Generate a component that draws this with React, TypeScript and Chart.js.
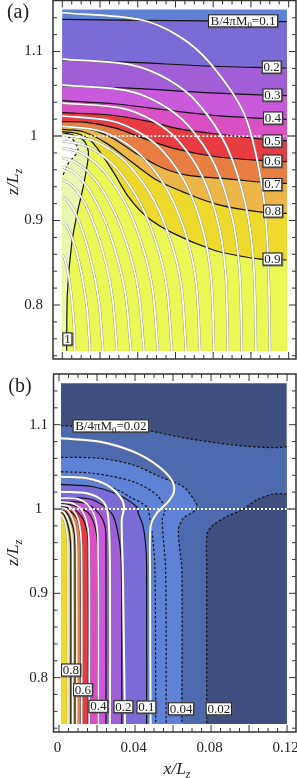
import React, { useEffect, useRef } from "react";
import { Chart, registerables } from "chart.js";

Chart.register(...registerables);

type P = [number, number];
type Label = [number, number, string];

const SERIF = '"Liberation Serif", "Times New Roman", serif';

// Shared axis ticks
const xMajorTicks = [0, 0.02, 0.04, 0.06, 0.08, 0.1, 0.12];
const xMinorTicks = [0.005, 0.01, 0.015, 0.025, 0.03, 0.035, 0.045, 0.05, 0.055, 0.065, 0.07, 0.075, 0.085, 0.09, 0.095, 0.105, 0.11, 0.115];
const xTickLabels = [0, 0.04, 0.08, 0.12];
const yMajorTicks = [0.8, 0.9, 1, 1.1];
const yMinorTicks = [0.74, 0.76, 0.78, 0.82, 0.84, 0.86, 0.88, 0.92, 0.94, 0.96, 0.98, 1.02, 1.04, 1.06, 1.08, 1.12, 1.14];

// Band colours, low B to high B
const bandBase = "#5f82d6";
const band01 = "#7a6bd6";
const band02 = "#a05fd6";
const band03 = "#c95adc";
const band04 = "#d94fc4";
const band05 = "#e83c42";
const band06 = "#e87e42";
const band07 = "#ecb648";
const band08 = "#eeda2c";
const band09 = "#eaf855";
const band10 = "#e8f8b0";
const band11 = "#ffffff";
const bandOuter = "#3f5080";
const bandMid = "#4d6aaf";

// Panel (a): fill limits
const aLeft = 0, aRight = 0.1191, aTop = 1.1497, aBottom = 0.7457;

// Panel (a): B contours
const a01: P[] = [[0, 1.138], [0.06, 1.1365], [0.119, 1.1353]];
const a02: P[] = [[0, 1.09], [0.0377, 1.0872], [0.073, 1.0832], [0.1083, 1.0809], [0.119, 1.0805]];
const a03: P[] = [[0, 1.0592], [0.0377, 1.0564], [0.073, 1.0517], [0.1083, 1.0485], [0.119, 1.0477]];
const a04: P[] = [[0, 1.0418], [0.0288, 1.0379], [0.0553, 1.0308], [0.0818, 1.0241], [0.1066, 1.0209], [0.119, 1.0197]];
const a05: P[] = [[0, 1.0276], [0.0253, 1.0249], [0.0465, 1.017], [0.0606, 1.0091], [0.0765, 1.0039], [0.1066, 0.9961], [0.119, 0.9945]];
const a06: P[] = [[0, 1.017], [0.0129, 1.0162], [0.0288, 1.0091], [0.043, 0.9972], [0.0589, 0.9854], [0.0818, 0.9755], [0.1066, 0.9708], [0.119, 0.9696]];
const a07: P[] = [[0, 1.0118], [0.0129, 1.0091], [0.0253, 0.9992], [0.0377, 0.9815], [0.0518, 0.9637], [0.0659, 0.9538], [0.0907, 0.9487], [0.1066, 0.9452], [0.119, 0.944]];
const a08: P[] = [[0, 1.0079], [0.0111, 1.0051], [0.0235, 0.9913], [0.0377, 0.9677], [0.05, 0.9479], [0.0659, 0.9321], [0.0836, 0.9183], [0.1066, 0.9097], [0.119, 0.9085]];
const a09: P[] = [[0, 1.0051], [0.0076, 1.0032], [0.0147, 0.9953], [0.0205, 0.9795], [0.0275, 0.9558], [0.035, 0.9282], [0.0447, 0.9045], [0.0589, 0.8848], [0.0801, 0.8651], [0.0942, 0.858], [0.1048, 0.8544], [0.119, 0.8533]];
const a10: P[] = [[0, 1.0039], [0.0058, 1.0012], [0.0111, 0.9953], [0.0133, 0.9873], [0.0138, 0.9755], [0.0111, 0.94], [0.0079, 0.9085], [0.005, 0.873], [0.0027, 0.8138], [0.0023, 0.746]];
const a11: P[] = [[0, 1.0012], [0.0023, 1.0], [0.0058, 0.9953], [0.0082, 0.9854], [0.0076, 0.9795], [0.0032, 0.9677], [0, 0.9518]];

// Panel (a): field lines
const aField: P[][] = [
  [[0, 0.8592], [0.0008, 0.8569], [0.0017, 0.8513], [0.0027, 0.8422], [0.004, 0.8252], [0.0052, 0.8025], [0.0061, 0.7798], [0.0067, 0.7457]],
  [[0, 0.8983], [0.0017, 0.8953], [0.0037, 0.8876], [0.0058, 0.8754], [0.0087, 0.8525], [0.0114, 0.822], [0.0133, 0.7915], [0.0147, 0.7457]],
  [[0, 0.9278], [0.0025, 0.9242], [0.0054, 0.9151], [0.0086, 0.9005], [0.0128, 0.8732], [0.0168, 0.8368], [0.0196, 0.8003], [0.0216, 0.7457]],
  [[0, 0.9479], [0.0039, 0.9439], [0.0082, 0.9337], [0.0126, 0.9176], [0.0182, 0.8872], [0.0234, 0.8468], [0.0267, 0.8064], [0.029, 0.7457]],
  [[0, 0.9633], [0.005, 0.9589], [0.0103, 0.9481], [0.0158, 0.9307], [0.0229, 0.898], [0.0293, 0.8545], [0.0336, 0.811], [0.0364, 0.7457]],
  [[0, 0.974], [0.0068, 0.9694], [0.0135, 0.958], [0.0202, 0.9398], [0.0286, 0.9055], [0.0359, 0.8599], [0.0405, 0.8142], [0.0433, 0.7457]],
  [[0, 0.9858], [0.009, 0.981], [0.0172, 0.969], [0.0252, 0.9498], [0.0349, 0.9138], [0.043, 0.8658], [0.0479, 0.8177], [0.0507, 0.7457]],
  [[0, 0.9941], [0.0116, 0.9891], [0.0214, 0.9767], [0.0306, 0.9568], [0.0415, 0.9196], [0.0503, 0.8699], [0.0554, 0.8202], [0.0581, 0.7457]],
  [[0, 1.0012], [0.0144, 0.9961], [0.0258, 0.9833], [0.0363, 0.9629], [0.0484, 0.9246], [0.0578, 0.8735], [0.0631, 0.8224], [0.0656, 0.7457]],
  [[0, 1.0118], [0.019, 1.0065], [0.0323, 0.9932], [0.044, 0.9719], [0.0567, 0.932], [0.0661, 0.8788], [0.071, 0.8255], [0.073, 0.7457]],
  [[0, 1.0237], [0.0256, 1.0181], [0.0408, 1.0042], [0.0534, 0.982], [0.0662, 0.9403], [0.075, 0.8847], [0.079, 0.8291], [0.0804, 0.7457]],
  [[0, 1.039], [0.0312, 1.0331], [0.0479, 1.0185], [0.0613, 0.995], [0.0745, 0.951], [0.0831, 0.8924], [0.0867, 0.8337], [0.0878, 0.7457]],
  [[0, 1.0603], [0.0338, 1.054], [0.052, 1.0383], [0.0665, 1.0131], [0.0808, 0.9659], [0.0901, 0.903], [0.094, 0.8401], [0.0952, 0.7457]],
  [[0, 1.0911], [0.0364, 1.0842], [0.0561, 1.0669], [0.0717, 1.0393], [0.0872, 0.9875], [0.0972, 0.9184], [0.1014, 0.8493], [0.1027, 0.7457]],
  [[0, 1.1459], [0.041, 1.1379], [0.0621, 1.1179], [0.0785, 1.0859], [0.0965, 1.0258], [0.1055, 0.9458], [0.1089, 0.8658], [0.1101, 0.7457]],
];

const aLabels: Label[] = [
  [0.0958, 1.1363, "B/4πM_0=0.1"],
  [0.1110, 1.0816, "0.2"],
  [0.1114, 1.0485, "0.3"],
  [0.1117, 1.0213, "0.4"],
  [0.1114, 0.9941, "0.5"],
  [0.1114, 0.9704, "0.6"],
  [0.1114, 0.9426, "0.7"],
  [0.1117, 0.9112, "0.8"],
  [0.1114, 0.8544, "0.9"],
  [0.0027, 0.7598, "1"],
];

// Panel (b): fill limits
const bLeft = 0.00105, bRight = 0.1198, bTop = 1.1491, bBottom = 0.745;

// Panel (b): B contours
const b002Top: P[] = [[0.00105, 1.0988], [0.0216, 1.0969], [0.0447, 1.0937], [0.0672, 1.0838], [0.0917, 1.0759], [0.1127, 1.0727], [0.1198, 1.0739]];
const b002Low: P[] = [[0.1198, 1.0178], [0.1127, 1.0178], [0.104, 1.0107], [0.097, 1], [0.0882, 0.9909], [0.0812, 0.981], [0.078, 0.9712], [0.0777, 0.9277], [0.0777, 0.745]];
const b004: P[] = [[0.00105, 1.0613], [0.0216, 1.0601], [0.0391, 1.0522], [0.0531, 1.0383], [0.0654, 1.0264], [0.0716, 1.0087], [0.0725, 1], [0.0654, 0.989], [0.0628, 0.9751], [0.0646, 0.9277], [0.0646, 0.745]];
const b006: P[] = [[0.00105, 1.0442], [0.018, 1.0423], [0.0391, 1.0324], [0.0514, 1.0166], [0.0558, 1], [0.0543, 0.987], [0.0561, 0.9277], [0.0564, 0.745]];
const b008: P[] = [[0.00105, 1.038], [0.0137, 1.0362], [0.031, 1.0225], [0.0373, 1.0142], [0.0461, 1.0027], [0.0479, 0.987], [0.0494, 0.9632], [0.0505, 0.9277], [0.0509, 0.745]];
const b01: P[] = [[0.00105, 1.0293], [0.018, 1.0264], [0.0304, 1.0178], [0.0409, 1.0027], [0.0417, 0.9949], [0.0443, 0.979], [0.0458, 0.9514], [0.0461, 0.9277], [0.0461, 0.745]];
const b02: P[] = [[0.00105, 1.0139], [0.0172, 1.0113], [0.0277, 0.9949], [0.031, 0.9715], [0.0326, 0.9434], [0.033, 0.8802], [0.033, 0.745]];
const b03: P[] = [[0.00105, 1.0095], [0.0137, 1.0068], [0.0207, 0.9953], [0.0242, 0.979], [0.0247, 0.9553], [0.0247, 0.745]];
const b04: P[] = [[0.00105, 1.0068], [0.0084, 1.0036], [0.0154, 0.9953], [0.0189, 0.979], [0.0204, 0.9553], [0.0204, 0.745]];
const b05: P[] = [[0.00105, 1.0027], [0.0067, 1.0008], [0.0119, 0.9909], [0.0146, 0.9751], [0.0154, 0.9553], [0.0154, 0.745]];
const b06: P[] = [[0.00105, 1.0008], [0.0049, 0.9988], [0.0093, 0.989], [0.0111, 0.9731], [0.0116, 0.9553], [0.0116, 0.745]];
const b07: P[] = [[0.00105, 0.9988], [0.0037, 0.9964], [0.0063, 0.9858], [0.008, 0.9715], [0.0084, 0.9514], [0.0084, 0.745]];
const b08: P[] = [[0.00105, 0.9964], [0.0026, 0.9929], [0.0045, 0.9822], [0.0058, 0.9668], [0.0062, 0.9478], [0.0062, 0.745]];

// Panel (b): field lines
const bField: P[][] = [
  [[0.00105, 0.9929], [0.0021, 0.9905], [0.0034, 0.9822], [0.0045, 0.9668], [0.0047, 0.9395], [0.0047, 0.745]],
  [[0.00105, 0.9976], [0.0026, 0.9964], [0.0047, 0.9881], [0.0066, 0.9727], [0.0072, 0.9454], [0.0072, 0.745]],
  [[0.00105, 1.0012], [0.0037, 1], [0.0063, 0.9929], [0.0084, 0.9787], [0.0093, 0.9514], [0.0093, 0.745]],
  [[0.00105, 1.0047], [0.0047, 1.0036], [0.0079, 0.9976], [0.0105, 0.9846], [0.0118, 0.9573], [0.0119, 0.745]],
  [[0.00105, 1.0083], [0.0068, 1.0071], [0.0111, 1.0012], [0.0142, 0.9881], [0.0158, 0.9632], [0.0159, 0.745]],
  [[0.00105, 1.013], [0.01, 1.0119], [0.0153, 1.0047], [0.0189, 0.9905], [0.0205, 0.9632], [0.0207, 0.745]],
  [[0.00105, 1.0205], [0.0146, 1.0186], [0.0233, 1.0087], [0.0259, 0.9909], [0.0268, 0.9277], [0.0268, 0.745]],
  [[0.00105, 1.0383], [0.0146, 1.0364], [0.0251, 1.0285], [0.0321, 1.0146], [0.0342, 1.0027], [0.033, 0.987], [0.0336, 0.9277], [0.0347, 0.745]],
  [[0.00105, 1.0838], [0.0216, 1.0798], [0.0391, 1.068], [0.0514, 1.0522], [0.0593, 1.0344], [0.0605, 1.0205], [0.0575, 1.0087], [0.0514, 0.9949], [0.0482, 0.979], [0.0479, 0.9277], [0.0482, 0.745]],
];

const bLabels: Label[] = [
  [0.0273, 1.0985, "B/4πM_0=0.02"],
  [0.0063, 0.809, "0.8"],
  [0.0126, 0.7856, "0.6"],
  [0.0207, 0.766, "0.4"],
  [0.0339, 0.7655, "0.2"],
  [0.046, 0.7651, "0.1"],
  [0.0642, 0.763, "0.04"],
  [0.0841, 0.763, "0.02"],
];

const corner = (x: number, z: number): P[] => [[x, z], [x, z]];

function fillDs(points: P[], color: string) {
  return {
    data: points.map(([x, y]) => ({ x, y })),
    showLine: true, fill: "shape", backgroundColor: color, borderWidth: 0,
    borderColor: "transparent", pointRadius: 0, tension: 0.3,
  };
}
function lineDs(points: P[], color: string, width: number, dash: number[] = [], tension = 0.3) {
  return {
    data: points.map(([x, y]) => ({ x, y })),
    showLine: true, fill: false, borderColor: color, borderWidth: width, borderDash: dash,
    pointRadius: 0, tension,
  };
}
function fieldDs(points: P[], width: number) {
  return [lineDs(points, "rgba(125,125,125,0.75)", width + 0.9), lineDs(points, "#ffffff", width)];
}

function drawRich(ctx: CanvasRenderingContext2D, base: string, sub: string, rest: string, size: number, font: string, cx: number, cy: number) {
  ctx.textBaseline = "alphabetic";
  ctx.textAlign = "left";
  ctx.font = `${font} ${size}px ${SERIF}`;
  const w1 = ctx.measureText(base).width;
  ctx.font = `${font} ${size * 0.68}px ${SERIF}`;
  const w2 = ctx.measureText(sub).width;
  ctx.font = `${size}px ${SERIF}`;
  const w3 = rest ? ctx.measureText(rest).width : 0;
  let x = cx - (w1 + w2 + w3) / 2;
  const y = cy + size * 0.33;
  ctx.font = `${font} ${size}px ${SERIF}`;
  ctx.fillText(base, x, y);
  x += w1;
  ctx.font = `${font} ${size * 0.68}px ${SERIF}`;
  ctx.fillText(sub, x, y + size * 0.22);
  x += w2;
  if (rest) {
    ctx.font = `${size}px ${SERIF}`;
    ctx.fillText(rest, x, y);
  }
}

function decorPlugin(labels: Label[], panel: string, panelX: number, panelY: number, yTitleX: number, yTitleY: number, xTitle: boolean) {
  return {
    id: "decor",
    afterDatasetsDraw(chart: any) {
      const { ctx, chartArea: a, scales } = chart;
      const sx = scales.x, sy = scales.y;
      ctx.save();
      // contour labels
      for (const [x, z, text] of labels) {
        const px = sx.getPixelForValue(x), py = sy.getPixelForValue(z);
        const parts = text.split("_0");
        ctx.font = `13px ${SERIF}`;
        let w = ctx.measureText(parts[0]).width;
        if (parts.length > 1) w += ctx.measureText(parts[1]).width + 6;
        const bw = w + 2.5, bh = 12;
        ctx.fillStyle = "rgba(90,90,90,0.7)";
        ctx.fillRect(px - bw / 2 - 0.5, py - bh / 2 - 0.5, bw + 2, bh + 2);
        ctx.fillStyle = "#fff";
        ctx.strokeStyle = "#222";
        ctx.lineWidth = 1;
        ctx.fillRect(px - bw / 2, py - bh / 2, bw, bh);
        ctx.strokeRect(px - bw / 2, py - bh / 2, bw, bh);
        ctx.fillStyle = "#222";
        if (parts.length > 1) {
          drawRich(ctx, parts[0], "0", parts[1], 13, "", px, py);
        } else {
          ctx.textAlign = "center";
          ctx.textBaseline = "middle";
          ctx.fillText(text, px, py + 0.5);
        }
      }
      // inward ticks on all four sides
      const tick = (x1: number, y1: number, x2: number, y2: number, color = "#333", lw = 1) => {
        ctx.strokeStyle = color;
        ctx.lineWidth = lw;
        ctx.beginPath();
        ctx.moveTo(x1, y1);
        ctx.lineTo(x2, y2);
        ctx.stroke();
      };
      for (const v of xMajorTicks) {
        const p = sx.getPixelForValue(v);
        tick(p, a.top, p, a.top + 7);
        tick(p, a.bottom, p, a.bottom - 7);
      }
      for (const v of xMinorTicks) {
        const p = sx.getPixelForValue(v);
        tick(p, a.top, p, a.top + 4);
        tick(p, a.bottom, p, a.bottom - 4);
      }
      for (const v of yMajorTicks) {
        const p = sy.getPixelForValue(v);
        const one = v === 1;
        tick(a.left, p, a.left + (one ? 9 : 7), p, one ? "#808080" : "#333", one ? 2 : 1);
        tick(a.right, p, a.right - (one ? 9 : 7), p, one ? "#808080" : "#333", one ? 2 : 1);
      }
      for (const v of yMinorTicks) {
        const p = sy.getPixelForValue(v);
        tick(a.left, p, a.left + 4, p);
        tick(a.right, p, a.right - 4, p);
      }
      ctx.strokeStyle = "#333";
      ctx.lineWidth = 1.5;
      ctx.strokeRect(a.left, a.top, a.right - a.left, a.bottom - a.top);
      // panel tag and axis titles
      ctx.fillStyle = "#222";
      ctx.font = `20px ${SERIF}`;
      ctx.textAlign = "center";
      ctx.textBaseline = "middle";
      ctx.fillText(panel, panelX, panelY);
      ctx.save();
      ctx.translate(yTitleX, yTitleY);
      ctx.rotate(-Math.PI / 2);
      drawRich(ctx, "z/L", "z", "", 17.5, "italic", 0, 0);
      ctx.restore();
      if (xTitle) drawRich(ctx, "x/L", "z", "", 17.5, "italic", 177, 398);
      ctx.restore();
    },
  };
}

function makeConfig(datasets: any[], xMin: number, xMax: number, yMin: number, yMax: number, pad: any, leftW: number, bottomH: number, showX: boolean, yPad: number, plugin: any) {
  const n = datasets.length;
  datasets.forEach((d, i) => { d.order = n - i; });
  return {
    type: "scatter" as const,
    data: { datasets },
    plugins: [plugin],
    options: {
      animation: false as const,
      responsive: false,
      layout: { padding: pad },
      plugins: { legend: { display: false }, tooltip: { enabled: false }, title: { display: false } },
      scales: {
        x: {
          type: "linear" as const, min: xMin, max: xMax,
          grid: { display: false, drawTicks: false }, border: { display: false },
          afterBuildTicks: (s: any) => { s.ticks = xTickLabels.map((value) => ({ value })); },
          afterFit: (s: any) => { s.height = bottomH; s.paddingLeft = 0; s.paddingRight = 0; s.paddingTop = 0; s.paddingBottom = 0; },
          ticks: {
            display: showX, autoSkip: false, maxRotation: 0, minRotation: 0, padding: 7, labelOffset: -1.5,
            color: "#222", font: { family: SERIF, size: 15 },
            callback: (v: any) => String(v),
          },
        },
        y: {
          type: "linear" as const, min: yMin, max: yMax,
          grid: { display: false, drawTicks: false }, border: { display: false },
          afterBuildTicks: (s: any) => { s.ticks = yMajorTicks.map((value) => ({ value })); },
          afterFit: (s: any) => { s.width = leftW; s.paddingLeft = 0; s.paddingRight = 0; s.paddingTop = 0; s.paddingBottom = 0; },
          ticks: {
            autoSkip: false, crossAlign: "center" as const, padding: yPad,
            color: "#222", font: { family: SERIF, size: 15 },
            callback: (v: any) => String(v),
          },
        },
      },
    },
  };
}

function panelA() {
  const below = (c: P[], color: string) =>
    fillDs([...corner(aLeft, c[0][1]), ...c.slice(1, -1), ...corner(aRight, c[c.length - 1][1]), ...corner(aRight, aBottom), ...corner(aLeft, aBottom)], color);
  const datasets: any[] = [
    fillDs([...corner(aLeft, aTop), ...corner(aRight, aTop), ...corner(aRight, aBottom), ...corner(aLeft, aBottom)], bandBase),
    below(a01, band01), below(a02, band02), below(a03, band03), below(a04, band04), below(a05, band05),
    below(a06, band06), below(a07, band07), below(a08, band08), below(a09, band09),
    fillDs([...corner(aLeft, a10[0][1]), ...a10.slice(1, -1), ...corner(a10[a10.length - 1][0], aBottom), ...corner(aLeft, aBottom)], band10),
    fillDs([...corner(aLeft, a11[0][1]), ...a11.slice(1, -1), ...corner(aLeft, a11[a11.length - 1][1])], band11),
  ];
  for (const c of [a01, a02, a03, a04, a05, a06, a07, a08, a09, a10]) datasets.push(lineDs(c, "#111", 1.2));
  datasets.push(lineDs(a11, "#111", 1.2, [3, 2.5]));
  for (const f of aField) datasets.push(...fieldDs(f, 1.7));
  datasets.push(lineDs([[aLeft, 1], [aRight, 1]], "#ffffff", 1.8, [2, 2], 0));
  return makeConfig(datasets, -0.00493, 0.1239, 0.7361, 1.1604, { left: 0, right: 1, top: 0.5, bottom: 0 }, 53, 11, false, 10,
    decorPlugin(aLabels, "(a)", 18, 13, 12, 182, false));
}

function panelB() {
  const left = (c: P[], color: string) =>
    fillDs([...corner(bLeft, c[0][1]), ...c.slice(1, -1), ...corner(c[c.length - 1][0], bBottom), ...corner(bLeft, bBottom)], color);
  const datasets: any[] = [
    fillDs([...corner(bLeft, bTop), ...corner(bRight, bTop), ...corner(bRight, bBottom), ...corner(bLeft, bBottom)], bandOuter),
    fillDs([...corner(bLeft, b002Top[0][1]), ...b002Top.slice(1, -1), ...corner(bRight, b002Top[b002Top.length - 1][1]), ...corner(bRight, bBottom), ...corner(bLeft, bBottom)], bandMid),
    fillDs([...corner(bRight, b002Low[0][1]), ...b002Low.slice(1, -1), ...corner(b002Low[b002Low.length - 1][0], bBottom), ...corner(bRight, bBottom)], bandOuter),
    left(b004, bandBase), left(b01, band01), left(b02, band02), left(b03, band03), left(b04, band04),
    left(b05, band05), left(b06, band06), left(b07, band07), left(b08, band08),
  ];
  for (const c of [b002Top, b002Low, b004, b006, b008]) datasets.push(lineDs(c, "#111", 1.2, [2.5, 2]));
  for (const c of [b01, b02, b03, b04, b05, b06, b07, b08]) datasets.push(lineDs(c, "#111", 1.2));
  bField.forEach((f, i) => datasets.push(...fieldDs(f, i >= 6 ? 2 : 1.5)));
  datasets.push(lineDs([[bLeft, 1], [bRight, 1]], "#ffffff", 1.8, [2, 2], 0));
  return makeConfig(datasets, -0.0029, 0.1247, 0.7355, 1.1601, { left: 0, right: 1, top: 4, bottom: 0 }, 53.5, 46, true, 5.6,
    decorPlugin(bLabels, "(b)", 20, 17, 12, 183, true));
}

export default function App() {
  const refA = useRef<HTMLCanvasElement>(null);
  const refB = useRef<HTMLCanvasElement>(null);
  useEffect(() => {
    const a = new Chart(refA.current as any, panelA() as any);
    const b = new Chart(refB.current as any, panelB() as any);
    return () => { a.destroy(); b.destroy(); };
  }, []);
  return (
    <div style={{ position: "absolute", left: 0, top: 0, width: 297, height: 778, overflow: "hidden", background: "#fff" }}>
      <canvas ref={refA} width={297} height={370} style={{ position: "absolute", left: 0, top: 0, width: 297, height: 370 }} />
      <canvas ref={refB} width={297} height={408} style={{ position: "absolute", left: 0, top: 370, width: 297, height: 408 }} />
    </div>
  );
}
